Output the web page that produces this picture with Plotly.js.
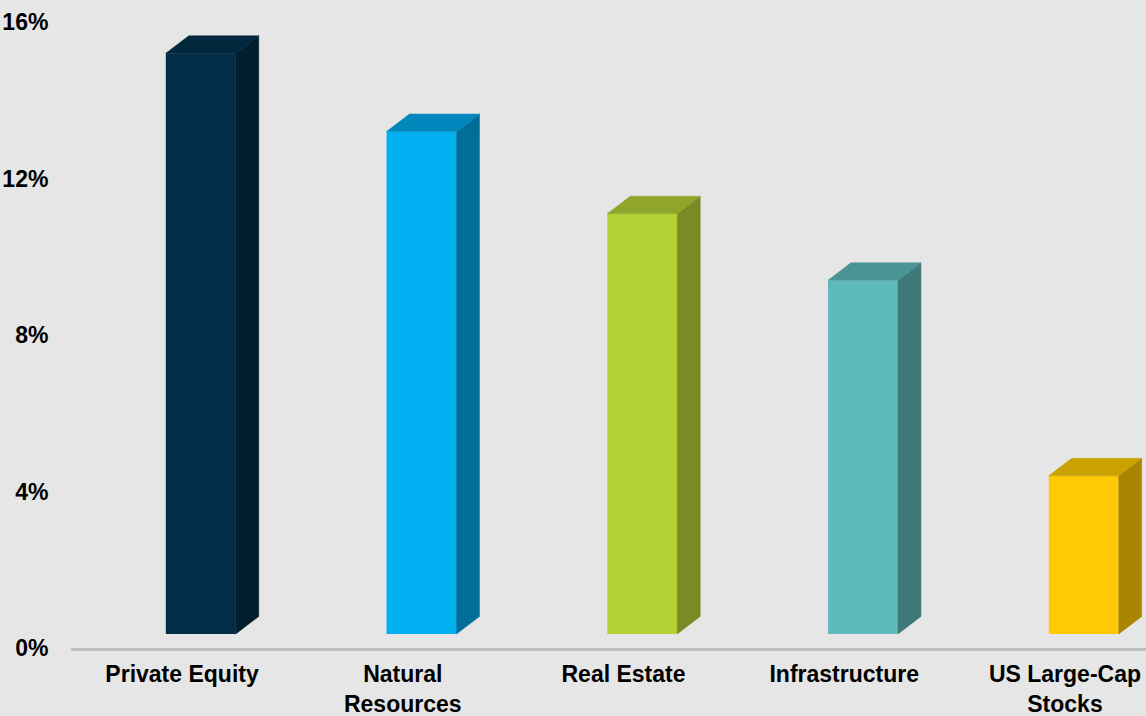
<!DOCTYPE html>
<html>
<head>
<meta charset="utf-8">
<script src="https://cdn.plot.ly/plotly-3.0.1.min.js"></script>
<style>
  html, body { margin: 0; padding: 0; background: #e6e6e6; }
  #chart { width: 1146px; height: 716px; }
</style>
</head>
<body>
<div id="chart"></div>
<script>
// ---- data ----
const categories = ["Private Equity", "Natural<br>Resources", "Real Estate", "Infrastructure", "US Large-Cap<br>Stocks"];
const returnsPct = [15.2, 13.2, 11.1, 9.4, 4.4];
const yTickVals = [0, 4, 8, 12, 16];
const yTickText = ["0%", "4%", "8%", "12%", "16%"];

// ---- style ----
const frontColors = ["#012d46", "#00b0f0", "#b3d335", "#5ebbbc", "#ffca05"];
const sideColors  = ["#011f2f", "#006e99", "#7a8a25", "#3f7878", "#a88400"];
const topColors   = ["#01273d", "#0088bd", "#8fa52b", "#4a9495", "#c9a100"];

// 3D projection constants (in data units)
const frontOffsetX = 0.085;   // front face shifted right of category label
const barWidth = 0.317;       // front face width
const depthX = 0.104;         // oblique depth, horizontal
const depthY = 0.447;         // oblique depth, vertical (% units)
const floorY = 0.36;          // front face base above axis

const xIdx = categories.map((_, i) => i);

const traces = [];
traces.push({
  type: "bar",
  x: xIdx.map(i => i + frontOffsetX),
  y: returnsPct.map(v => v - floorY),
  base: returnsPct.map(() => floorY),
  width: barWidth,
  marker: { color: frontColors, line: { width: 0 } },
  hoverinfo: "skip",
  showlegend: false
});

returnsPct.forEach((v, i) => {
  const xl = i + frontOffsetX - barWidth / 2;
  const xr = i + frontOffsetX + barWidth / 2;
  // side face
  traces.push({
    type: "scatter", mode: "lines", fill: "toself",
    x: [xr, xr + depthX, xr + depthX, xr, xr],
    y: [floorY, floorY + depthY, v + depthY, v, floorY],
    fillcolor: sideColors[i],
    line: { color: sideColors[i], width: 0.5 },
    hoverinfo: "skip", showlegend: false
  });
  // top face
  traces.push({
    type: "scatter", mode: "lines", fill: "toself",
    x: [xl, xl + depthX, xr + depthX, xr, xl],
    y: [v, v + depthY, v + depthY, v, v],
    fillcolor: topColors[i],
    line: { color: topColors[i], width: 0.5 },
    hoverinfo: "skip", showlegend: false
  });
});

const font = { family: "Liberation Sans, Arial, sans-serif", size: 23, color: "#000", weight: "bold" };

const layout = {
  width: 1146, height: 716,
  paper_bgcolor: "#e6e6e6",
  plot_bgcolor: "#e6e6e6",
  margin: { l: 71, r: 0, t: 22, b: 68 },
  showlegend: false,
  xaxis: {
    range: [-0.503, 4.367],
    tickvals: xIdx,
    ticktext: categories,
    tickfont: font,
    showgrid: false, zeroline: false,
    showline: true, linecolor: "#bfbfbf", linewidth: 3,
    ticks: "outside", ticklen: 3, tickcolor: "rgba(0,0,0,0)",
    fixedrange: true
  },
  yaxis: {
    range: [0, 16],
    tickvals: yTickVals,
    ticktext: yTickText,
    tickfont: font,
    showgrid: false, zeroline: false, showline: false,
    ticks: "outside", ticklen: 17, tickcolor: "rgba(0,0,0,0)",
    fixedrange: true
  }
};

Plotly.newPlot("chart", traces, layout, { displayModeBar: false, staticPlot: true });
</script>
</body>
</html>
